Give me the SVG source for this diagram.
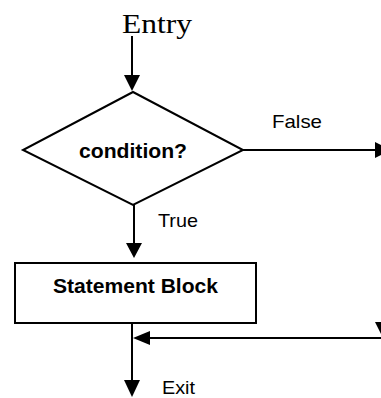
<svg xmlns="http://www.w3.org/2000/svg" width="381" height="398" viewBox="0 0 381 398">
<style>
.ln{stroke:#000;stroke-width:2;fill:none}
.shape{stroke:#000;stroke-width:2;fill:#fff}
.ah{fill:#000;stroke:none}
.lbl{font-family:"Liberation Sans",Arial,sans-serif;font-size:19px;fill:#000}
.bold{font-family:"Liberation Sans",Arial,sans-serif;font-size:20px;font-weight:bold;fill:#000}
.serif{font-family:"Liberation Serif","Times New Roman",serif;font-size:28px;fill:#000}
</style>
<rect width="381" height="398" fill="#fff"/>
<g id="connectors">
<line class="ln" x1="132" y1="36" x2="132" y2="78"/>
<polygon class="ah" points="124,75 140,75 132,91"/>
<line class="ln" x1="243" y1="150" x2="378" y2="150"/>
<polygon class="ah" points="375,142 391,150 375,158"/>
<line class="ln" x1="134" y1="204" x2="134" y2="246"/>
<polygon class="ah" points="126,243 142,243 134,258"/>
<line class="ln" x1="132" y1="323" x2="132" y2="383"/>
<polygon class="ah" points="124,380 140,380 132,397"/>
<line class="ln" x1="381" y1="338" x2="146" y2="338"/>
<polygon class="ah" points="150,331 150,345 133,338"/>
<polygon class="ah" points="375,322 391,322 383,338"/>
</g>
<g id="entry">
<text class="serif" x="122" y="33" textLength="70" lengthAdjust="spacingAndGlyphs">Entry</text>
</g>
<g id="condition">
<polygon class="shape" stroke-width="1.5" points="133,92 243,150 133,205 23,150"/>
<text class="bold" x="133" y="158" text-anchor="middle" textLength="108" lengthAdjust="spacingAndGlyphs">condition?</text>
</g>
<g id="statement">
<rect class="shape" x="15" y="263" width="241" height="60"/>
<text class="bold" x="135.5" y="293" text-anchor="middle" textLength="165" lengthAdjust="spacingAndGlyphs">Statement Block</text>
</g>
<g id="labels">
<text class="lbl" x="272" y="128" textLength="50" lengthAdjust="spacingAndGlyphs">False</text>
<text class="lbl" x="158" y="227" textLength="40" lengthAdjust="spacingAndGlyphs">True</text>
<text class="lbl" x="162" y="394" font-size="18" textLength="33" lengthAdjust="spacingAndGlyphs">Exit</text>
</g>
</svg>
